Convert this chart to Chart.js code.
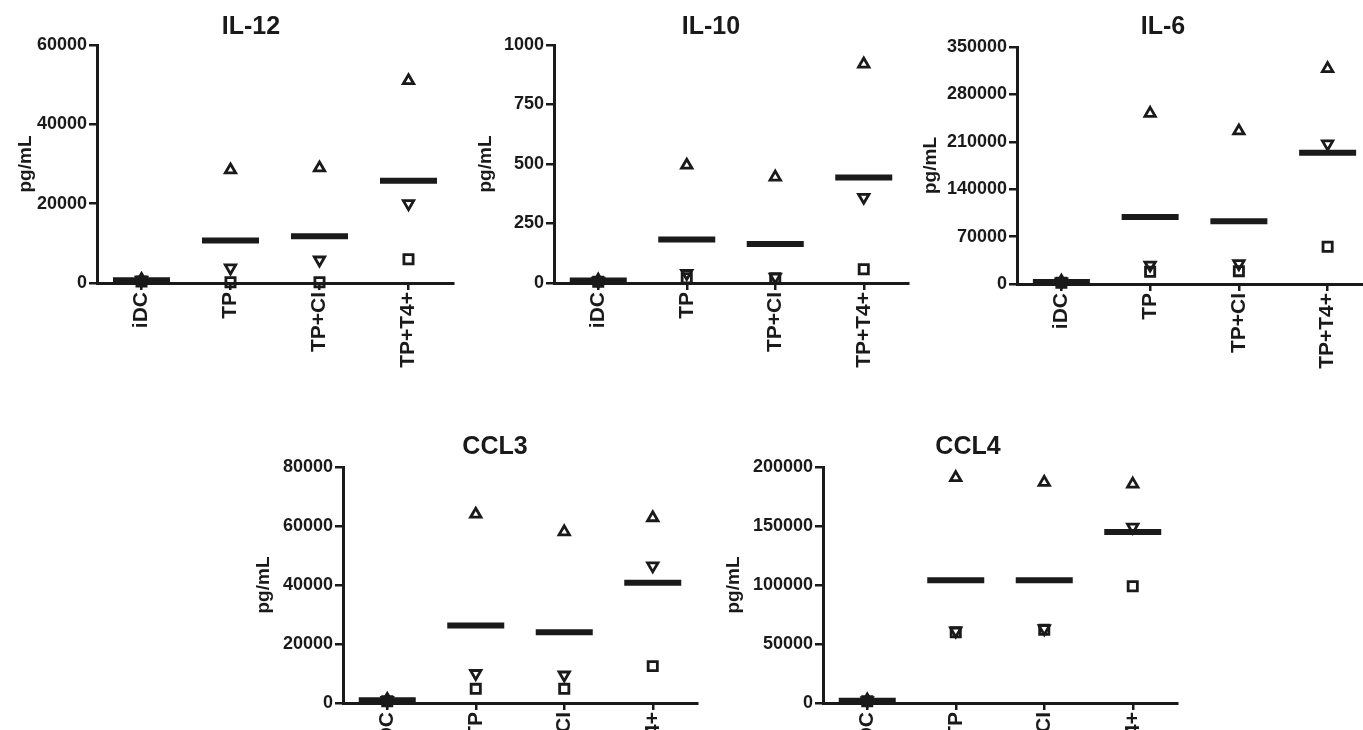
<!DOCTYPE html>
<html lang="en">
<head>
<meta charset="UTF-8">
<title>Cytokine / chemokine secretion</title>
<script src="https://cdn.jsdelivr.net/npm/chart.js"></script>
<style>
  html, body { margin: 0; background: #fff; }
  body { position: relative; width: 1363px; height: 730px; overflow: hidden; }
  canvas { position: absolute; }
</style>
</head>
<body>
<canvas id="il12"></canvas>
<canvas id="il10"></canvas>
<canvas id="il6"></canvas>
<canvas id="ccl3"></canvas>
<canvas id="ccl4"></canvas>

<script>
const categories = ['iDC', 'TP', 'TP+CI', 'TP+T4+'];

// IL-12 (pg/mL)
const il12Up = [900, 28500, 29000, 51000];
const il12Down = [700, 3800, 5800, 20000];
const il12Square = [400, 200, 200, 6000];
const il12Mean = [700, 10700, 11800, 25800];
const il12Ticks = [0, 20000, 40000, 60000];

// IL-10
const il10Up = [12, 495, 445, 920];
const il10Down = [8, 40, 25, 360];
const il10Square = [5, 20, 20, 58];
const il10Mean = [10, 183, 164, 443];
const il10Ticks = [0, 250, 500, 750, 1000];

// IL-6
const il6Up = [4000, 252000, 226000, 318000];
const il6Down = [3000, 28000, 30000, 207000];
const il6Square = [2000, 18000, 19000, 55000];
const il6Mean = [3000, 99000, 92500, 194000];
const il6Ticks = [0, 70000, 140000, 210000, 280000, 350000];

// CCL3
const ccl3Up = [1200, 64000, 58000, 62800];
const ccl3Down = [900, 10000, 9500, 46500];
const ccl3Square = [600, 4800, 4800, 12500];
const ccl3Mean = [900, 26300, 24000, 40800];
const ccl3Ticks = [0, 20000, 40000, 60000, 80000];

// CCL4
const ccl4Up = [2500, 191000, 187000, 185500];
const ccl4Down = [2000, 61000, 63000, 149000];
const ccl4Square = [1500, 60000, 62000, 99000];
const ccl4Mean = [2000, 104000, 104000, 145000];
const ccl4Ticks = [0, 50000, 100000, 150000, 200000];

const ink = '#1a1a1a';
const fontFamily = '"Liberation Sans", Arial, Helvetica, sans-serif';

// placement of each panel on the page
const panels = [
  { id: 'il12', title: 'IL-12', up: il12Up, down: il12Down, square: il12Square, mean: il12Mean, ticks: il12Ticks,
    left: 0, top: 0, width: 470, yWidth: 97, padTop: 45, plotH: 238, titleX: 251, titleY: 27 },
  { id: 'il10', title: 'IL-10', up: il10Up, down: il10Down, square: il10Square, mean: il10Mean, ticks: il10Ticks,
    left: 460, top: 0, width: 465, yWidth: 94, padTop: 45, plotH: 238, titleX: 251, titleY: 27 },
  { id: 'il6', title: 'IL-6', up: il6Up, down: il6Down, square: il6Square, mean: il6Mean, ticks: il6Ticks,
    left: 905, top: 0, width: 484, yWidth: 112, padTop: 47, plotH: 237, titleX: 258, titleY: 27 },
  { id: 'ccl3', title: 'CCL3', up: ccl3Up, down: ccl3Down, square: ccl3Square, mean: ccl3Mean, ticks: ccl3Ticks,
    left: 238, top: 422, width: 476, yWidth: 105, padTop: 45, plotH: 236, titleX: 257, titleY: 25 },
  { id: 'ccl4', title: 'CCL4', up: ccl4Up, down: ccl4Down, square: ccl4Square, mean: ccl4Mean, ticks: ccl4Ticks,
    left: 708, top: 422, width: 486, yWidth: 115, padTop: 45, plotH: 236, titleX: 260, titleY: 25 }
];
const canvasH = 400;

// bold panel title, placed like the original figure (not centred on the plot)
const panelTitle = {
  id: 'panelTitle',
  afterDraw(chart, args, opts) {
    const ctx = chart.ctx;
    ctx.save();
    ctx.font = 'bold 25px ' + fontFamily;
    ctx.fillStyle = ink;
    ctx.textAlign = 'center';
    ctx.textBaseline = 'middle';
    ctx.fillText(opts.text, opts.x, opts.y);
    ctx.restore();
  }
};

function marker(values, style, rotation, radius) {
  return {
    data: values,
    showLine: false,
    pointStyle: style,
    pointRotation: rotation,
    pointRadius: radius,
    pointBorderWidth: 2.8,
    pointBorderColor: ink,
    pointBackgroundColor: 'rgba(0,0,0,0)',
    clip: false
  };
}

function drawPanel(p) {
  const cv = document.getElementById(p.id);
  cv.width = p.width;
  cv.height = canvasH;
  cv.style.left = p.left + 'px';
  cv.style.top = p.top + 'px';
  const xHeight = canvasH - p.padTop - p.plotH;

  new Chart(cv, {
    type: 'line',
    data: {
      labels: categories,
      datasets: [
        marker(p.up, 'triangle', 0, 6),
        marker(p.down, 'triangle', 180, 6),
        marker(p.square, 'rect', 0, 6.5),
        {
          data: p.mean,
          showLine: false,
          pointStyle: 'line',
          pointRadius: 28.5,
          pointBorderWidth: 6,
          pointBorderColor: ink,
          clip: false
        }
      ]
    },
    options: {
      responsive: false,
      animation: false,
      events: [],
      // the wide mean bars would otherwise add auto padding round the plot
      layout: { autoPadding: false, padding: { top: p.padTop, right: 17, left: 0, bottom: 0 } },
      plugins: {
        legend: { display: false },
        tooltip: { enabled: false },
        panelTitle: { text: p.title, x: p.titleX, y: p.titleY }
      },
      scales: {
        x: {
          type: 'category',
          offset: true,
          border: { color: ink, width: 3 },
          grid: { drawOnChartArea: false, color: ink, lineWidth: 2.5, tickLength: 7 },
          ticks: {
            color: ink, padding: 2, autoSkip: false, minRotation: 90, maxRotation: 90,
            font: { family: fontFamily, size: 21, weight: 'bold' }
          },
          afterFit: s => {
            s.height = xHeight;
            s.paddingLeft = 0;
            s.paddingRight = 0;
          }
        },
        y: {
          min: 0,
          max: p.ticks[p.ticks.length - 1],
          border: { color: ink, width: 3 },
          grid: { drawOnChartArea: false, color: ink, lineWidth: 2.5, tickLength: 8 },
          ticks: {
            color: ink, padding: 2,
            font: { family: fontFamily, size: 18, weight: 'bold' },
            callback: v => String(v)
          },
          afterBuildTicks: s => { s.ticks = p.ticks.map(v => ({ value: v })); },
          title: {
            display: true, text: 'pg/mL', color: ink, padding: { top: 14 },
            font: { family: fontFamily, size: 19, weight: 'bold' }
          },
          afterFit: s => { s.width = p.yWidth; }
        }
      }
    },
    plugins: [panelTitle]
  });
}

panels.forEach(drawPanel);
</script>
</body>
</html>
